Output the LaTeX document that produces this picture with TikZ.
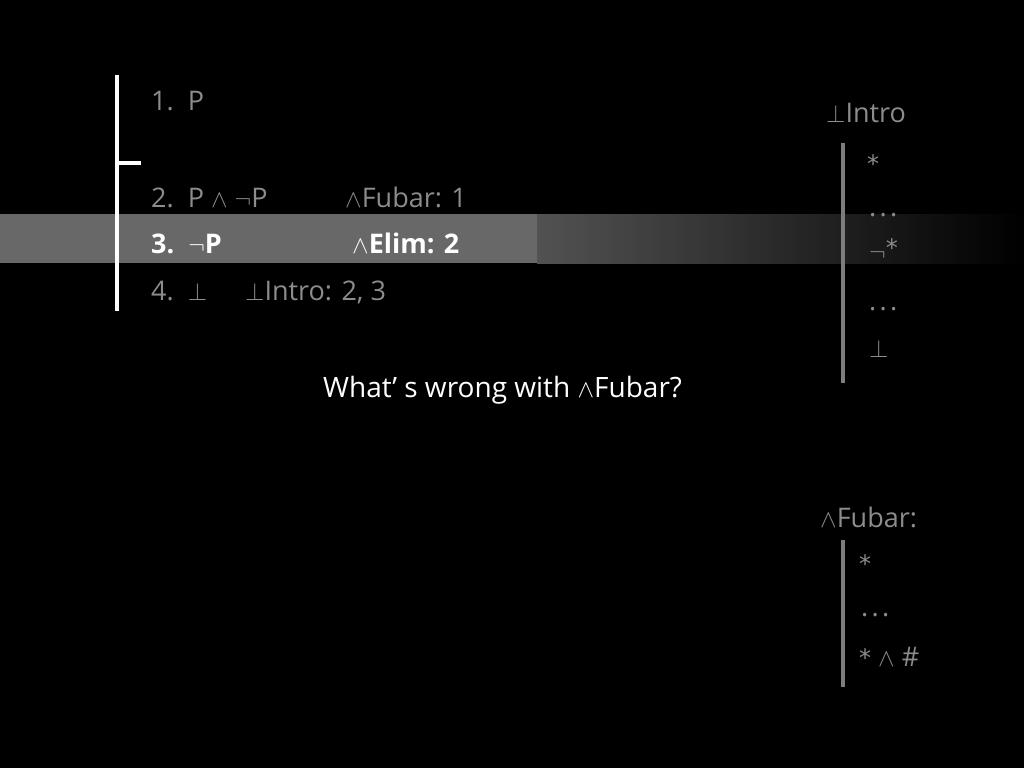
\documentclass[tikz,border=0pt]{standalone}
\usepackage{fontspec}
\setmainfont{Open Sans}
\newfontfamily\symfont{DejaVu Sans}
\usetikzlibrary{positioning}
\definecolor{txtgray}{RGB}{140,140,140}
\definecolor{bargray}{RGB}{125,125,125}
\definecolor{hlgray}{RGB}{104,104,104}
\definecolor{hlfade}{RGB}{82,82,82}
\newcommand{\AND}{$\wedge$}
\newcommand{\NOT}{$\neg$}
\newcommand{\BOT}{$\bot$}
\newcommand{\STAR}{{\symfont\fontsize{24}{26}\selectfont *}}
\newcommand{\DOTS}{.\hspace{0.12em}.\hspace{0.12em}.}

\begin{document}
\begin{tikzpicture}
    [
        x=1pt, y=-1pt,
        line/.style={anchor=base west, text=txtgray, font=\fontsize{27}{30}\selectfont, inner sep=0pt},
        current/.style={anchor=base west, text=white, font=\bfseries\fontsize{27}{30}\selectfont, inner sep=0pt},
        question/.style={anchor=base west, text=white, font=\fontsize{28}{30}\selectfont, inner sep=0pt},
        rulebar/.style={draw=bargray, line width=4pt},
    ]
    \fill[black] (0,0) rectangle (1024,768);
    \useasboundingbox (0,0) rectangle (1024,768);
    % highlighted row
    \fill[hlgray] (0,214) rectangle (537,263);
    \shade[left color=hlfade, right color=black] (537,214) rectangle (1024,263);
    % proof scope
    \coordinate (scope top) at (117,75);
    \coordinate (scope bottom) at (117,311);
    \coordinate (scope tick) at (117,163);
    \coordinate (tick end) at (141,163);
    \draw[white, line width=4pt] (scope top) -- (scope bottom);
    \draw[white, line width=4pt] (scope tick) -- (tick end);
    \node (one) at (151,110) [line] {1.\ \ P};
    \node (two) at (151,207) [line] {2.\ \ P \AND\ \NOT P};
    \node (two why) at (345,207) [line] {\AND Fubar: 1};
    \node (three) at (151,253) [current] {3.\ \ \NOT P};
    \node (three why) at (352,253) [current] {\AND Elim: 2};
    \node (four) at (151,300) [line] {4.\ \ \BOT};
    \node (four why) at (245,300) [line] {\BOT Intro: 2, 3};
    \node (ask) at (323,397) [question] {What’ s wrong with \AND Fubar?};
    % bottom intro rule
    \node (intro) at (826,122) [line] {\BOT Intro};
    \coordinate (intro top) at (843,143);
    \coordinate (intro bottom) at (843,383);
    \draw[rulebar] (intro top) -- (intro bottom);
    \node (i1) at (867,172) [line] {\STAR};
    \node (i2) at (869,216) [line] {\DOTS};
    \node (i3) at (869,260) [line] {\NOT\raisebox{4pt}{\STAR}};
    \node (i4) at (869,310) [line] {\DOTS};
    \node (i5) at (869,357) [line] {\BOT};
    % fubar rule
    \node (fubar) at (820,527) [line] {\AND Fubar:};
    \coordinate (fubar top) at (843,540);
    \coordinate (fubar bottom) at (843,687);
    \draw[rulebar] (fubar top) -- (fubar bottom);
    \node (f1) at (859,572) [line] {\STAR};
    \node (f2) at (861,616) [line] {\DOTS};
    \node (f3) at (859,666) [line] {\STAR\ \AND\ \#};
\end{tikzpicture}
\end{document}
